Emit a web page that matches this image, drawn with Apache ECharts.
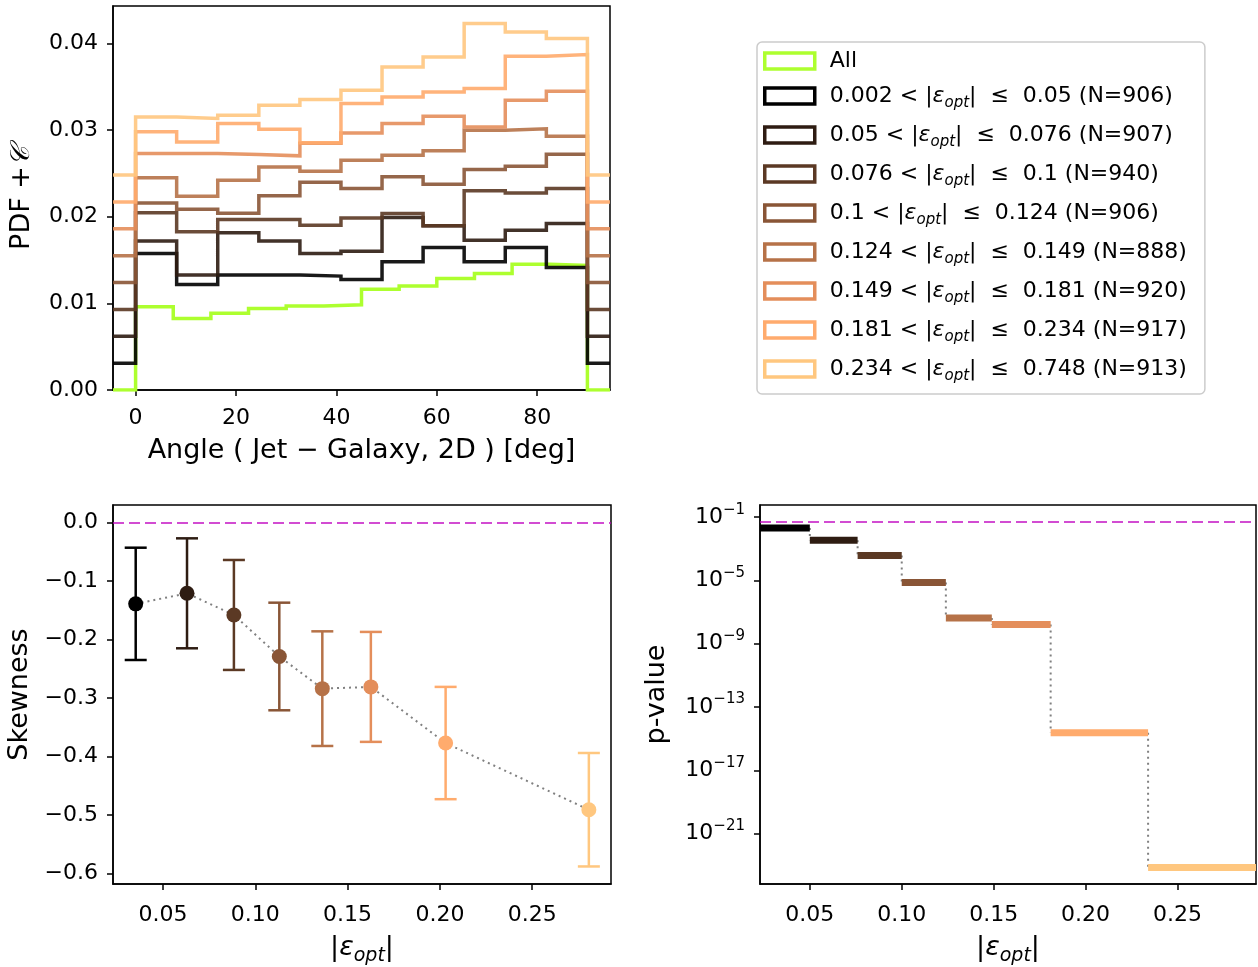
<!DOCTYPE html>
<html><head><meta charset="utf-8">
<script src="https://cdn.jsdelivr.net/npm/echarts@6/dist/echarts.min.js"></script>
<style>html,body{margin:0;padding:0;background:#fff}#c{width:1258px;height:967px}</style>
</head><body><div id="c"></div>
<script>
// ---------- data ----------
const angleEdges11 = [0, 8.18, 16.36, 24.55, 32.73, 40.91, 49.09, 57.27, 65.45, 73.64, 81.82, 90];
const angleEdges12 = [0, 7.5, 15, 22.5, 30, 37.5, 45, 52.5, 60, 67.5, 75, 82.5, 90];
const histAll = [0.0096, 0.00826, 0.00884, 0.00941, 0.00968, 0.00984, 0.01161, 0.01199, 0.01287, 0.01345, 0.01452, 0.01437];
const hist1 = [0.01576, 0.01218, 0.01326, 0.01326, 0.01314, 0.01276, 0.01479, 0.01645, 0.01479, 0.01645, 0.01414];
const hist2 = [0.01718, 0.01326, 0.01813, 0.01718, 0.01576, 0.01602, 0.01991, 0.01894, 0.01729, 0.01844, 0.01922];
const hist3 = [0.02044, 0.01825, 0.01968, 0.01968, 0.01902, 0.01983, 0.02035, 0.01894, 0.02300, 0.02274, 0.02325];
const hist4 = [0.02156, 0.02086, 0.02040, 0.02242, 0.02398, 0.02325, 0.02459, 0.02375, 0.02544, 0.02582, 0.02720];
const hist5 = [0.02450, 0.02236, 0.02421, 0.02574, 0.02524, 0.02651, 0.02709, 0.02759, 0.02997, 0.03014, 0.02928];
const hist6 = [0.02729, 0.02729, 0.02717, 0.02701, 0.02847, 0.02966, 0.03074, 0.03159, 0.03035, 0.03343, 0.03447];
const hist7 = [0.02980, 0.02862, 0.03074, 0.03009, 0.02851, 0.03305, 0.03381, 0.03439, 0.03478, 0.03850, 0.03870];
const hist8 = [0.03150, 0.03132, 0.03170, 0.03285, 0.03351, 0.03458, 0.03727, 0.03842, 0.04227, 0.04130, 0.04054];
const histOffsets = [0, 0.0031, 0.0062, 0.0093, 0.0124, 0.0155, 0.0186, 0.0217, 0.0248];

const binLo = [0.002, 0.05, 0.076, 0.1, 0.124, 0.149, 0.181, 0.234];
const binHi = [0.05, 0.076, 0.1, 0.124, 0.149, 0.181, 0.234, 0.748];
const groupN = [906, 907, 940, 906, 888, 920, 917, 913];

const epsMedian = [0.0352, 0.0630, 0.0884, 0.1130, 0.1363, 0.1626, 0.2031, 0.2807];
const skewness = [-0.139, -0.121, -0.158, -0.229, -0.284, -0.281, -0.377, -0.491];
const skewErr = [0.096, 0.094, 0.094, 0.092, 0.098, 0.094, 0.096, 0.097];

const pValues = [2.04e-2, 3.47e-3, 3.8e-4, 7.41e-6, 4.22e-8, 1.62e-8, 2.34e-15, 7.08e-24];
const pThreshold = 0.05;

const angleTicks = [0, 20, 40, 60, 80];
const pdfTicks = [0, 0.01, 0.02, 0.03, 0.04];
const epsTicks = [0.05, 0.10, 0.15, 0.20, 0.25];
const skewTicks = [-0.6, -0.5, -0.4, -0.3, -0.2, -0.1, 0.0];
const logPTicks = [-21, -17, -13, -9, -5, -1];

// ---------- style ----------
const FONT = 'DejaVu Sans';
const copperColors = ['rgb(0,0,0)', 'rgb(46,28,18)', 'rgb(91,57,36)', 'rgb(137,85,54)',
  'rgb(182,114,72)', 'rgb(228,142,91)', 'rgb(255,171,109)', 'rgb(255,199,127)'];
const allColor = '#adff2f';
const magenta = 'rgba(191,0,191,0.7)';
const X0MIN = -4.5, X0MAX = 94.5;
const EPSMIN = 0.0229, EPSMAX = 0.2927;

const hists = [hist1, hist2, hist3, hist4, hist5, hist6, hist7, hist8];

function stepPoints(edges, vals, c) {
  const pts = [[X0MIN, c], [edges[0], c]];
  for (let i = 0; i < vals.length; i++) { pts.push([edges[i], vals[i]]); pts.push([edges[i + 1], vals[i]]); }
  pts.push([edges[edges.length - 1], c]); pts.push([X0MAX, c]);
  return pts;
}

const tickStyle = { show: true, inside: false, length: 6, lineStyle: { color: '#000', width: 1.5 } };
function axis(extra) {
  const a = {
    type: 'value', splitLine: { show: false },
    axisLine: { show: true, onZero: false, lineStyle: { color: '#000', width: 1.5 } },
    nameTextStyle: { fontFamily: FONT, fontSize: 27, color: '#000' },
    nameLocation: 'middle'
  };
  return Object.assign(a, extra);
}
const topXLabelBase = { color: '#000', fontFamily: FONT, fontSize: 22, margin: 17 };
const botXLabelBase = { color: '#000', fontFamily: FONT, fontSize: 22, margin: 20 };
const yLabelBase = { color: '#000', fontFamily: FONT, fontSize: 22, margin: 15 };

const legendNames = ['All'].concat(binLo.map((lo, i) => 'grp' + i));
function legendFmt(name) {
  if (name === 'All') return '{g| }{a|All}';
  const i = +name.slice(3);
  return '{g| }{t|' + binLo[i] + ' < |}{e|ε}{s|opt}{t||  ≤  ' + binHi[i] + ' (N=' + groupN[i] + ')}';
}

const series = [];
// histograms
series.push({
  name: 'All', type: 'line', xAxisIndex: 0, yAxisIndex: 0, symbol: 'none', showSymbol: false,
  data: stepPoints(angleEdges12, histAll, histOffsets[0]),
  lineStyle: { color: allColor, width: 3.5, join: 'miter' }, itemStyle: { color: allColor }, z: 2
});
hists.forEach((h, i) => {
  series.push({
    name: 'grp' + i, type: 'line', xAxisIndex: 0, yAxisIndex: 0, symbol: 'none', showSymbol: false,
    data: stepPoints(angleEdges11, h, histOffsets[i + 1]),
    lineStyle: { color: copperColors[i], width: 3.5, opacity: 0.9, join: 'miter' },
    itemStyle: { color: copperColors[i] }, z: 3 + i
  });
});

// skewness panel
series.push({
  type: 'line', xAxisIndex: 1, yAxisIndex: 1, symbol: 'none', showSymbol: false,
  data: epsMedian.map((x, i) => [x, skewness[i]]),
  lineStyle: { color: '#808080', width: 2, type: [2, 4] }, z: 2,
  markLine: { silent: true, symbol: 'none', label: { show: false }, animation: false,
    lineStyle: { color: magenta, type: [11, 5], width: 2 }, data: [{ yAxis: 0 }] }
});
series.push({
  type: 'custom', xAxisIndex: 1, yAxisIndex: 1, z: 3,
  data: epsMedian.map((x, i) => [x, skewness[i] - skewErr[i], skewness[i] + skewErr[i], i]),
  encode: { x: 0, y: [1, 2] },
  renderItem: function (params, api) {
    const x = api.value(0), lo = api.value(1), hi = api.value(2), i = api.value(3);
    const a = api.coord([x, lo]), b = api.coord([x, hi]);
    const c = copperColors[i], w = 11, st = { stroke: c, lineWidth: 2.5 };
    return { type: 'group', children: [
      { type: 'line', shape: { x1: a[0], y1: a[1], x2: b[0], y2: b[1] }, style: st },
      { type: 'line', shape: { x1: a[0] - w, y1: a[1], x2: a[0] + w, y2: a[1] }, style: st },
      { type: 'line', shape: { x1: b[0] - w, y1: b[1], x2: b[0] + w, y2: b[1] }, style: st }
    ] };
  }
});
series.push({
  type: 'scatter', xAxisIndex: 1, yAxisIndex: 1, symbolSize: 15, z: 4,
  data: epsMedian.map((x, i) => ({ value: [x, skewness[i]], itemStyle: { color: copperColors[i], opacity: 1 } }))
});

// p-value panel
const logP = pValues.map(p => Math.log10(p));
series.push({
  type: 'custom', xAxisIndex: 2, yAxisIndex: 2, z: 2,
  data: binHi.slice(0, binHi.length - 1).map((x, i) => [x, logP[i], logP[i + 1]]),
  encode: { x: 0, y: [1, 2] },
  renderItem: function (params, api) {
    const a = api.coord([api.value(0), api.value(1)]), b = api.coord([api.value(0), api.value(2)]);
    return { type: 'line', shape: { x1: a[0], y1: a[1], x2: b[0], y2: b[1] },
      style: { stroke: '#808080', lineWidth: 2, lineDash: [2, 4] } };
  },
  markLine: { silent: true, symbol: 'none', label: { show: false }, animation: false,
    lineStyle: { color: magenta, type: [11, 5], width: 2 }, data: [{ yAxis: Math.log10(pThreshold) }] }
});
series.push({
  type: 'custom', xAxisIndex: 2, yAxisIndex: 2, z: 3,
  data: binLo.map((lo, i) => [lo, binHi[i], logP[i], i]),
  encode: { x: [0, 1], y: 2 },
  renderItem: function (params, api) {
    const a = api.coord([api.value(0), api.value(2)]), b = api.coord([api.value(1), api.value(2)]);
    const h = 7;
    const cs = params.coordSys;
    const r = echarts.graphic.clipRectByRect({ x: a[0], y: a[1] - h / 2, width: b[0] - a[0], height: h },
      { x: cs.x, y: cs.y, width: cs.width, height: cs.height });
    if (!r) return null;
    return { type: 'rect', shape: r, style: { fill: copperColors[api.value(3)] } };
  }
});

const epsNameStyle = { fontFamily: FONT, fontSize: 27, color: '#000', rich: {
  n: { fontFamily: FONT, fontSize: 27, lineHeight: 36 },
  e: { fontFamily: FONT, fontSize: 27, fontStyle: 'italic', lineHeight: 36 },
  s: { fontFamily: FONT, fontSize: 19, fontStyle: 'italic', lineHeight: 22, verticalAlign: 'bottom' } } };

const option = {
  animation: false,
  backgroundColor: '#fff',
  textStyle: { fontFamily: FONT },
  grid: [
    { left: 113, top: 6, width: 497, height: 384, show: true, borderColor: '#000', borderWidth: 1.5, backgroundColor: 'transparent' },
    { left: 113, top: 505, width: 498, height: 383, show: true, borderColor: '#000', borderWidth: 1.5, backgroundColor: 'transparent' },
    { left: 760, top: 505, width: 496, height: 383, show: true, borderColor: '#000', borderWidth: 1.5, backgroundColor: 'transparent' }
  ],
  xAxis: [
    axis({ gridIndex: 0, min: X0MIN, max: X0MAX, name: 'Angle ( Jet − Galaxy, 2D ) [deg]', nameGap: 47,
      axisTick: Object.assign({ customValues: angleTicks }, tickStyle),
      axisLabel: Object.assign({ customValues: angleTicks, formatter: v => String(v) }, topXLabelBase) }),
    axis({ gridIndex: 1, min: EPSMIN, max: EPSMAX, name: '{n||}{e|ε}{s|opt}{n||}', nameGap: 46,
      nameTextStyle: epsNameStyle,
      axisTick: Object.assign({ customValues: epsTicks }, tickStyle),
      axisLabel: Object.assign({ customValues: epsTicks, formatter: v => v.toFixed(2) }, botXLabelBase) }),
    axis({ gridIndex: 2, min: EPSMIN, max: EPSMAX, name: '{n||}{e|ε}{s|opt}{n||}', nameGap: 46,
      nameTextStyle: epsNameStyle,
      axisTick: Object.assign({ customValues: epsTicks }, tickStyle),
      axisLabel: Object.assign({ customValues: epsTicks, formatter: v => v.toFixed(2) }, botXLabelBase) })
  ],
  yAxis: [
    axis({ gridIndex: 0, min: 0, max: 0.0443, name: '{n|PDF +}{c|𝒞}', nameGap: 78,
      nameTextStyle: { fontFamily: FONT, fontSize: 27, color: '#000', rich: {
        n: { fontFamily: FONT, fontSize: 27 }, c: { fontFamily: 'DejaVu Serif', fontSize: 27, fontStyle: 'italic' } } },
      axisTick: Object.assign({ customValues: pdfTicks }, tickStyle),
      axisLabel: Object.assign({ customValues: pdfTicks, formatter: v => v.toFixed(2) }, yLabelBase) }),
    axis({ gridIndex: 1, min: -0.618, max: 0.030, name: 'Skewness', nameGap: 80,
      axisTick: Object.assign({ customValues: skewTicks }, tickStyle),
      axisLabel: Object.assign({ customValues: skewTicks, formatter: v => (v < -1e-9 ? '−' : '') + Math.abs(v).toFixed(1) }, yLabelBase) }),
    axis({ gridIndex: 2, min: -24.19, max: -0.23, name: 'p-value', nameGap: 90,
      axisTick: Object.assign({ customValues: logPTicks }, tickStyle),
      axisLabel: Object.assign({ customValues: logPTicks, formatter: v => '{b|10}{p|−' + Math.abs(Math.round(v)) + '}',
        rich: { b: { fontFamily: FONT, fontSize: 22, lineHeight: 30, color: '#000' },
                p: { fontFamily: FONT, fontSize: 15, lineHeight: 14, verticalAlign: 'top', color: '#000' } } }, yLabelBase) })
  ],
  legend: {
    orient: 'vertical', left: 757, top: 42, selectedMode: false,
    padding: [8, 18, 10, 6], itemGap: 13, itemWidth: 50, itemHeight: 16,
    backgroundColor: '#fff', borderColor: '#cccccc', borderWidth: 1.5, borderRadius: 5,
    formatter: legendFmt,
    textStyle: { fontFamily: FONT, fontSize: 22, color: '#000', rich: {
      g: { width: 10 },
      a: { fontFamily: FONT, fontSize: 22, lineHeight: 22 },
      t: { fontFamily: FONT, fontSize: 22, lineHeight: 30 },
      e: { fontFamily: FONT, fontSize: 22, lineHeight: 30, fontStyle: 'italic' },
      s: { fontFamily: FONT, fontSize: 15, lineHeight: 18, fontStyle: 'italic', verticalAlign: 'bottom' } } },
    data: legendNames.map((n, i) => ({ name: n, icon: 'rect',
      itemStyle: { color: '#fff', borderColor: i === 0 ? allColor : copperColors[i - 1], borderWidth: 3.5, opacity: 1 } }))
  },
  series: series
};
const chart = echarts.init(document.getElementById('c'), null, { renderer: 'canvas' });
chart.setOption(option);
</script></body></html>
